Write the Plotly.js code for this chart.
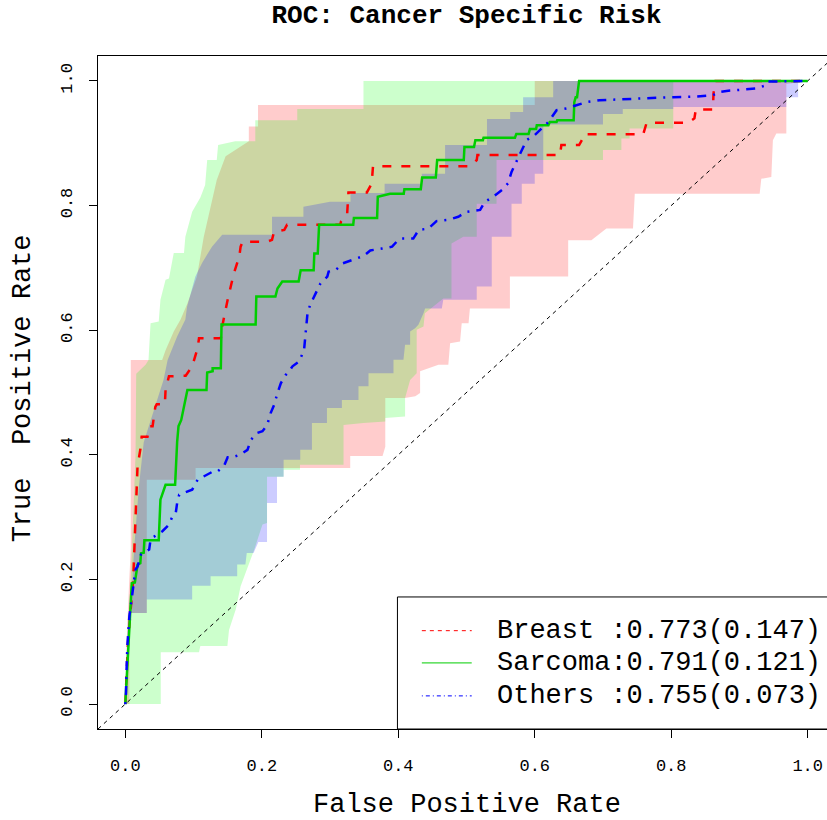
<!DOCTYPE html>
<html>
<head>
<meta charset="utf-8">
<script src="https://cdn.plot.ly/plotly-3.0.1.min.js"></script>
<style>
html, body { margin: 0; padding: 0; overflow: hidden; background: #ffffff; }
#chart { width: 850px; height: 820px; }
</style>
</head>
<body>
<div id="chart"></div>
<script>
// ---------------- data ----------------
var seriesNames = ['Breast', 'Sarcoma', 'Others'];
var aucValues = [0.773, 0.791, 0.755];
var aucSE = [0.147, 0.121, 0.073];

var tickVals = [0, 0.2, 0.4, 0.6, 0.8, 1.0];
var tickText = ['0.0', '0.2', '0.4', '0.6', '0.8', '1.0'];

// ROC curves
var breastFPR = [0,0.004,0.0116,0.0154,0.0179,0.0227,0.024,0.0325,0.036,0.040,0.044,0.046,0.058,0.059,0.064,0.0885,0.098,0.106,0.108,0.140,0.142,0.150,0.154,0.159,0.167,0.169,0.172,0.208,0.215,0.218,0.233,0.237,0.315,0.316,0.325,0.327,0.354,0.361,0.363,0.505,0.515,0.516,0.637,0.639,0.665,0.671,0.672,0.759,0.764,0.825,0.834,0.836,0.861,0.862,0.865,1.0];
var breastTPR = [0,0.10,0.200,0.301,0.381,0.413,0.429,0.429,0.446,0.446,0.477,0.481,0.481,0.504,0.526,0.527,0.542,0.571,0.587,0.587,0.606,0.649,0.670,0.691,0.718,0.734,0.742,0.742,0.745,0.758,0.761,0.769,0.769,0.774,0.785,0.821,0.821,0.835,0.863,0.863,0.873,0.881,0.881,0.897,0.897,0.909,0.9145,0.9145,0.933,0.933,0.940,0.954,0.954,0.980,1.0,1.0];

var sarcomaFPR = [0,0.004,0.007,0.008,0.0095,0.014,0.018,0.022,0.023,0.027,0.028,0.049,0.050,0.0515,0.059,0.073,0.076,0.078,0.082,0.086,0.091,0.119,0.120,0.128,0.128,0.140,0.141,0.191,0.192,0.220,0.223,0.230,0.254,0.257,0.276,0.277,0.282,0.284,0.334,0.335,0.369,0.370,0.388,0.408,0.409,0.433,0.435,0.455,0.457,0.496,0.497,0.511,0.513,0.524,0.525,0.571,0.573,0.591,0.593,0.602,0.603,0.620,0.622,0.632,0.633,0.657,0.658,0.660,0.662,0.665,1.0];
var sarcomaTPR = [0,0.087,0.141,0.173,0.194,0.195,0.224,0.226,0.242,0.243,0.263,0.263,0.304,0.328,0.352,0.352,0.421,0.446,0.456,0.475,0.504,0.504,0.532,0.534,0.539,0.539,0.609,0.609,0.654,0.654,0.667,0.678,0.678,0.696,0.696,0.723,0.723,0.769,0.769,0.780,0.780,0.814,0.819,0.819,0.826,0.826,0.845,0.845,0.873,0.873,0.894,0.894,0.905,0.905,0.909,0.909,0.915,0.915,0.923,0.923,0.929,0.929,0.934,0.934,0.937,0.937,0.966,0.974,0.974,1.0,1.0];

var othersFPR = [0,0.001,0.002,0.003,0.006,0.015,0.018,0.023,0.035,0.037,0.040,0.052,0.054,0.064,0.069,0.074,0.076,0.079,0.086,0.098,0.106,0.128,0.135,0.145,0.150,0.157,0.168,0.179,0.184,0.193,0.201,0.208,0.213,0.218,0.223,0.228,0.235,0.240,0.245,0.255,0.262,0.264,0.267,0.271,0.279,0.286,0.296,0.298,0.308,0.318,0.349,0.359,0.376,0.391,0.400,0.405,0.422,0.430,0.444,0.456,0.473,0.488,0.500,0.520,0.527,0.539,0.552,0.561,0.566,0.571,0.578,0.588,0.600,0.608,0.620,0.632,0.647,0.661,0.676,0.695,0.749,0.769,0.803,0.837,0.861,0.869,0.881,0.905,0.925,0.939,0.942,1.0];
var othersTPR = [0,0.018,0.061,0.093,0.141,0.216,0.221,0.240,0.248,0.264,0.267,0.275,0.277,0.288,0.301,0.307,0.323,0.336,0.339,0.344,0.360,0.373,0.373,0.383,0.396,0.396,0.400,0.408,0.424,0.435,0.438,0.448,0.467,0.480,0.499,0.515,0.528,0.534,0.542,0.550,0.569,0.595,0.627,0.641,0.659,0.675,0.686,0.694,0.696,0.707,0.719,0.728,0.731,0.734,0.745,0.747,0.747,0.761,0.763,0.775,0.777,0.782,0.790,0.793,0.806,0.814,0.825,0.836,0.854,0.865,0.883,0.905,0.913,0.921,0.934,0.953,0.956,0.961,0.966,0.969,0.972,0.973,0.974,0.975,0.977,0.982,0.984,0.986,0.988,0.993,0.999,1.0];

// Confidence bands: upper (left/top) and lower (right/bottom) boundaries
var breastUpperX = [0,0.002,0.005,0.008,0.008,0.008,0.054,0.059,0.071,0.081,0.091,0.105,0.115,0.127,0.134,0.147,0.159,0.169,0.181,0.181,0.1945,0.1945,0.600,0.600,1.0];
var breastUpperY = [0,0.10,0.18,0.25,0.53,0.552,0.552,0.568,0.598,0.617,0.643,0.686,0.750,0.809,0.841,0.879,0.887,0.895,0.903,0.927,0.927,0.9615,0.9615,1.0,1.0];
var breastLowerX = [0,0.006,0.006,0.0315,0.0315,0.103,0.103,0.3296,0.3296,0.377,0.381,0.381,0.410,0.425,0.432,0.432,0.459,0.4734,0.476,0.4906,0.493,0.503,0.505,0.5636,0.5636,0.649,0.649,0.683,0.705,0.744,0.7466,0.9296,0.932,0.9467,0.949,0.954,0.9687,0.9687,1.0];
var breastLowerY = [0,0,0.146,0.146,0.36,0.36,0.379,0.379,0.398,0.398,0.413,0.491,0.491,0.494,0.499,0.534,0.5445,0.5445,0.579,0.582,0.611,0.611,0.635,0.635,0.686,0.686,0.7445,0.7445,0.763,0.763,0.819,0.819,0.843,0.846,0.905,0.9155,0.9155,0.995,1.0];

var sarcomaUpperX = [0,0.003,0.008,0.012,0.015,0.016,0.030,0.034,0.037,0.049,0.0515,0.059,0.064,0.071,0.086,0.088,0.098,0.110,0.117,0.120,0.134,0.136,0.161,0.1905,0.1905,0.252,0.252,0.349,0.349,1.0];
var sarcomaUpperY = [0,0.10,0.20,0.30,0.40,0.53,0.545,0.552,0.611,0.614,0.649,0.681,0.683,0.724,0.724,0.750,0.790,0.813,0.833,0.873,0.873,0.897,0.903,0.903,0.937,0.937,0.955,0.955,1.0,1.0];
var sarcomaLowerX = [0,0.052,0.052,0.108,0.110,0.1496,0.152,0.162,0.169,0.181,0.189,0.201,0.2077,0.2077,0.232,0.232,0.256,0.256,0.3198,0.3198,0.349,0.381,0.381,0.410,0.410,0.4174,0.427,0.427,0.437,0.439,0.466,0.478,0.478,0.4954,0.515,0.515,0.544,0.544,0.700,0.700,0.727,0.727,0.739,0.739,0.803,0.803,1.0];
var sarcomaLowerY = [0,0,0.083,0.083,0.093,0.093,0.119,0.152,0.189,0.224,0.248,0.288,0.2906,0.365,0.365,0.376,0.376,0.384,0.384,0.448,0.451,0.4535,0.459,0.4616,0.491,0.520,0.531,0.6006,0.606,0.627,0.651,0.651,0.739,0.750,0.750,0.803,0.803,0.873,0.873,0.889,0.889,0.9075,0.9075,0.9235,0.9235,1.0,1.0];

var othersUpperX = [0,0.002,0.005,0.008,0.013,0.020,0.027,0.042,0.056,0.062,0.076,0.088,0.0906,0.1027,0.1125,0.127,0.142,0.215,0.215,0.261,0.261,0.30,0.33,0.33,0.38,0.38,0.4345,0.4345,0.4686,0.4686,0.53,0.53,0.564,0.564,0.583,0.583,0.627,0.627,1.0];
var othersUpperY = [0,0.05,0.146,0.15,0.25,0.35,0.42,0.472,0.52,0.552,0.590,0.617,0.638,0.686,0.708,0.734,0.753,0.753,0.782,0.782,0.798,0.806,0.806,0.82,0.82,0.835,0.835,0.851,0.851,0.897,0.897,0.939,0.939,0.950,0.950,0.974,0.974,1.0,1.0];
var othersLowerX = [0,0.004,0.0315,0.0315,0.098,0.098,0.125,0.125,0.164,0.164,0.176,0.178,0.188,0.195,0.2077,0.2077,0.2223,0.2223,0.232,0.232,0.2564,0.2564,0.2735,0.2735,0.2955,0.2955,0.3174,0.3174,0.3417,0.3417,0.3564,0.3564,0.393,0.393,0.4076,0.410,0.4174,0.4174,0.4247,0.4295,0.437,0.4393,0.4638,0.466,0.515,0.515,0.537,0.537,0.566,0.566,0.581,0.581,0.600,0.600,0.6125,0.6125,0.700,0.700,0.729,0.729,0.803,0.803,0.9687,0.9687,0.986,0.986,1.0];
var othersLowerY = [0,0.146,0.146,0.168,0.168,0.190,0.190,0.205,0.205,0.224,0.224,0.2425,0.2425,0.26,0.26,0.3227,0.3227,0.365,0.365,0.392,0.392,0.408,0.408,0.451,0.451,0.475,0.475,0.488,0.488,0.510,0.510,0.531,0.531,0.5525,0.5525,0.5766,0.5766,0.598,0.603,0.6087,0.627,0.635,0.635,0.649,0.649,0.670,0.670,0.750,0.750,0.803,0.803,0.835,0.835,0.851,0.851,0.93,0.93,0.947,0.947,0.955,0.955,0.958,0.958,0.974,0.974,1.0,1.0];

var diagonalRef = [-0.04, 1.04];

// ---------------- build traces ----------------
function band(ux, uy, lx, ly, color) {
  return {
    x: ux.concat(lx.slice().reverse()),
    y: uy.concat(ly.slice().reverse()),
    type: 'scatter', mode: 'lines', fill: 'toself',
    fillcolor: color, line: {width: 0, color: color},
    hoverinfo: 'skip', showlegend: false
  };
}
var lineColors = ['#FF0000', '#00CD00', '#0000FF'];
var lineDash = ['9px,10px', 'solid', '2px,7px,9px,7px'];
var legendDash = ['4px,4px', 'solid', '1px,3px,4px,3px'];

var traces = [
  band(breastUpperX, breastUpperY, breastLowerX, breastLowerY, 'rgba(255,0,0,0.2)'),
  band(sarcomaUpperX, sarcomaUpperY, sarcomaLowerX, sarcomaLowerY, 'rgba(0,255,0,0.2)'),
  band(othersUpperX, othersUpperY, othersLowerX, othersLowerY, 'rgba(0,0,255,0.2)'),
  {x: diagonalRef, y: diagonalRef, type: 'scatter', mode: 'lines',
   line: {color: '#000000', width: 1, dash: '4px,4px'}, hoverinfo: 'skip', showlegend: false},
  {x: breastFPR, y: breastTPR, type: 'scatter', mode: 'lines', name: seriesNames[0],
   line: {color: lineColors[0], width: 2.5, dash: lineDash[0]}, showlegend: false},
  {x: sarcomaFPR, y: sarcomaTPR, type: 'scatter', mode: 'lines', name: seriesNames[1],
   line: {color: lineColors[1], width: 2.5, dash: lineDash[1]}, showlegend: false},
  {x: othersFPR, y: othersTPR, type: 'scatter', mode: 'lines', name: seriesNames[2],
   line: {color: lineColors[2], width: 2.5, dash: lineDash[2]}, showlegend: false}
];

// ---------------- legend (drawn like R's legend box) ----------------
var FONT = 'Liberation Mono, Courier New, monospace';
var legendRowsY = [0.1461, 0.0982, 0.0492];
var shapes = [
  {type: 'rect', xref: 'paper', yref: 'paper', x0: 0.4063, x1: 1.0, y0: 0, y1: 0.1962,
   fillcolor: '#ffffff', line: {color: '#000000', width: 1}, layer: 'above'}
];
var annotations = [];
for (var i = 0; i < seriesNames.length; i++) {
  shapes.push({type: 'line', xref: 'paper', yref: 'paper', x0: 0.4394, x1: 0.5071,
    y0: legendRowsY[i], y1: legendRowsY[i],
    line: {color: lineColors[i], width: 1, dash: legendDash[i]}, layer: 'above'});
  var nm = seriesNames[i];
  while (nm.length < 7) nm += ' ';
  annotations.push({xref: 'paper', yref: 'paper', x: 0.539, y: legendRowsY[i],
    xanchor: 'left', yanchor: 'middle', showarrow: false,
    text: nm + ':' + aucValues[i].toFixed(3) + '(' + aucSE[i].toFixed(3) + ')',
    font: {family: FONT, size: 27, color: '#000000'}});
}
annotations.push({xref: 'paper', yref: 'paper', x: 0.5, y: -0.1125, xanchor: 'center', yanchor: 'middle',
  showarrow: false, text: 'False Positive Rate', font: {family: FONT, size: 27, color: '#000000'}});
annotations.push({xref: 'paper', yref: 'paper', x: -0.1023, y: 0.5056, xanchor: 'center', yanchor: 'middle',
  showarrow: false, textangle: -90, text: 'True\u00a0\u00a0Positive Rate',
  font: {family: FONT, size: 27, color: '#000000'}});

var axisCommon = {
  range: [-0.04, 1.04], autorange: false, tickmode: 'array', tickvals: tickVals, ticktext: tickText,
  ticks: 'outside', ticklen: 8, tickwidth: 1, tickcolor: '#000000',
  showline: true, mirror: true, linecolor: '#000000', linewidth: 1,
  showgrid: false, zeroline: false, fixedrange: true,
  tickfont: {family: FONT, size: 17, color: '#000000'}
};
var xaxis = Object.assign({}, axisCommon, {ticklabelstandoff: 13});
var yaxis = Object.assign({}, axisCommon, {tickangle: -90, ticklabelstandoff: 10});

var layout = {
  width: 850, height: 820,
  margin: {l: 97.5, r: 14.5, t: 56, b: 91, pad: 0},
  paper_bgcolor: '#ffffff', plot_bgcolor: '#ffffff',
  showlegend: false,
  title: {text: 'ROC: Cancer Specific Risk', x: 0.5, xref: 'paper', xanchor: 'center',
          y: 0.994, yref: 'container', yanchor: 'top',
          font: {family: FONT, size: 26, color: '#000000', weight: 'bold'}},
  xaxis: xaxis, yaxis: yaxis,
  shapes: shapes, annotations: annotations
};

Plotly.newPlot('chart', traces, layout, {staticPlot: true, displayModeBar: false});
</script>
</body>
</html>
